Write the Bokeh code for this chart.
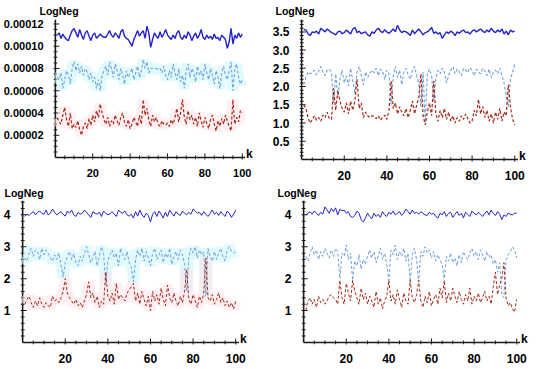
import math
from bokeh.plotting import figure
from bokeh.layouts import column, row
from bokeh.models import FixedTicker, PrintfTickFormatter, Title
from bokeh.core.properties import value
from bokeh.embed import file_html
from bokeh.resources import INLINE

k = list(range(1, 101))

# ---------------- Panel 1 (top-left) ----------------
p1_blue = [1.10e-4,1.12e-4,1.07e-4,1.11e-4,1.08e-4,1.06e-4,1.05e-4,1.10e-4,1.14e-4,1.16e-4,
           1.12e-4,1.08e-4,1.15e-4,1.10e-4,1.06e-4,1.12e-4,1.14e-4,1.09e-4,1.05e-4,1.10e-4,
           1.12e-4,1.07e-4,1.09e-4,1.11e-4,1.09e-4,1.08e-4,1.08e-4,1.11e-4,1.14e-4,1.10e-4,
           1.08e-4,1.12e-4,1.10e-4,1.07e-4,1.13e-4,1.15e-4,1.09e-4,1.07e-4,1.06e-4,1.03e-4,
           1.00e-4,1.06e-4,1.10e-4,1.14e-4,1.09e-4,1.12e-4,1.14e-4,1.07e-4,1.18e-4,1.12e-4,
           0.99e-4,1.06e-4,1.12e-4,1.09e-4,1.07e-4,1.13e-4,1.08e-4,1.11e-4,1.15e-4,1.10e-4,
           1.08e-4,1.06e-4,1.10e-4,1.07e-4,1.12e-4,1.14e-4,1.08e-4,1.06e-4,1.10e-4,1.07e-4,
           1.13e-4,1.10e-4,1.05e-4,1.09e-4,1.12e-4,1.07e-4,1.10e-4,1.15e-4,1.08e-4,1.06e-4,
           1.10e-4,1.07e-4,1.09e-4,1.06e-4,1.11e-4,1.07e-4,1.08e-4,1.05e-4,1.10e-4,1.08e-4,
           1.06e-4,0.98e-4,1.04e-4,1.16e-4,1.02e-4,1.10e-4,1.07e-4,1.12e-4,1.08e-4,1.11e-4]
p1_cyan = [0.72e-4,0.70e-4,0.76e-4,0.62e-4,0.70e-4,0.78e-4,0.74e-4,0.66e-4,0.80e-4,0.86e-4,
           0.78e-4,0.84e-4,0.76e-4,0.82e-4,0.74e-4,0.80e-4,0.77e-4,0.70e-4,0.76e-4,0.68e-4,
           0.72e-4,0.62e-4,0.70e-4,0.60e-4,0.74e-4,0.78e-4,0.82e-4,0.74e-4,0.86e-4,0.80e-4,
           0.72e-4,0.84e-4,0.78e-4,0.70e-4,0.80e-4,0.74e-4,0.66e-4,0.78e-4,0.72e-4,0.76e-4,
           0.80e-4,0.70e-4,0.76e-4,0.82e-4,0.72e-4,0.78e-4,0.88e-4,0.80e-4,0.86e-4,0.76e-4,
           0.80e-4,0.80e-4,0.80e-4,0.80e-4,0.79e-4,0.80e-4,0.76e-4,0.82e-4,0.74e-4,0.70e-4,
           0.78e-4,0.72e-4,0.84e-4,0.76e-4,0.70e-4,0.80e-4,0.68e-4,0.74e-4,0.62e-4,0.78e-4,
           0.84e-4,0.72e-4,0.80e-4,0.76e-4,0.68e-4,0.82e-4,0.74e-4,0.78e-4,0.70e-4,0.84e-4,
           0.76e-4,0.70e-4,0.80e-4,0.74e-4,0.66e-4,0.78e-4,0.72e-4,0.62e-4,0.76e-4,0.82e-4,
           0.74e-4,0.70e-4,0.78e-4,0.86e-4,0.60e-4,0.80e-4,0.84e-4,0.72e-4,0.66e-4,0.70e-4]
p1_red = [0.36e-4,0.32e-4,0.30e-4,0.38e-4,0.45e-4,0.34e-4,0.28e-4,0.40e-4,0.26e-4,0.30e-4,
          0.27e-4,0.33e-4,0.25e-4,0.20e-4,0.28e-4,0.31e-4,0.26e-4,0.35e-4,0.29e-4,0.38e-4,
          0.32e-4,0.42e-4,0.36e-4,0.48e-4,0.40e-4,0.34e-4,0.30e-4,0.36e-4,0.28e-4,0.33e-4,
          0.30e-4,0.38e-4,0.33e-4,0.29e-4,0.36e-4,0.40e-4,0.32e-4,0.28e-4,0.34e-4,0.26e-4,
          0.30e-4,0.36e-4,0.32e-4,0.28e-4,0.38e-4,0.30e-4,0.52e-4,0.38e-4,0.44e-4,0.34e-4,
          0.28e-4,0.38e-4,0.32e-4,0.36e-4,0.30e-4,0.28e-4,0.33e-4,0.30e-4,0.29e-4,0.31e-4,
          0.28e-4,0.34e-4,0.30e-4,0.36e-4,0.44e-4,0.32e-4,0.40e-4,0.52e-4,0.36e-4,0.30e-4,
          0.42e-4,0.34e-4,0.38e-4,0.30e-4,0.36e-4,0.28e-4,0.40e-4,0.33e-4,0.27e-4,0.36e-4,
          0.31e-4,0.26e-4,0.34e-4,0.38e-4,0.30e-4,0.24e-4,0.33e-4,0.28e-4,0.35e-4,0.30e-4,
          0.38e-4,0.33e-4,0.28e-4,0.24e-4,0.52e-4,0.30e-4,0.36e-4,0.32e-4,0.42e-4,0.40e-4]

# ---------------- Panel 2 (top-right) ----------------
p2_blue = [3.57,3.55,3.45,3.40,3.50,3.48,3.52,3.44,3.60,3.55,
           3.50,3.58,3.53,3.48,3.46,3.42,3.50,3.52,3.45,3.48,
           3.55,3.50,3.44,3.58,3.62,3.48,3.52,3.45,3.48,3.50,
           3.42,3.38,3.50,3.46,3.55,3.60,3.52,3.48,3.56,3.50,
           3.46,3.52,3.58,3.50,3.68,3.55,3.48,3.52,3.50,3.46,
           3.40,3.55,3.45,3.52,3.58,3.50,3.42,3.48,3.50,3.55,
           3.62,3.46,3.50,3.44,3.48,3.32,3.42,3.50,3.46,3.52,
           3.48,3.40,3.50,3.46,3.52,3.55,3.48,3.50,3.44,3.52,
           3.56,3.50,3.54,3.58,3.52,3.48,3.55,3.50,3.60,3.52,
           3.48,3.55,3.50,3.58,3.44,3.52,3.42,3.55,3.50,3.52]
p2_cyan = [2.05,2.25,2.40,2.35,2.38,2.45,2.32,2.42,2.55,2.40,
           2.30,2.45,2.48,2.40,1.55,2.35,1.70,2.20,2.45,2.10,
           2.30,2.02,2.50,2.15,1.80,2.40,2.55,2.30,2.05,2.40,
           2.25,2.35,2.45,2.38,2.50,2.30,2.48,2.42,2.20,2.45,
           2.35,1.50,2.30,2.55,2.25,2.45,2.05,2.40,2.50,2.32,
           2.20,2.45,2.55,2.30,2.10,1.45,2.40,1.00,2.35,2.48,
           2.30,1.60,2.25,2.45,2.35,2.50,2.40,2.10,2.30,2.45,
           2.55,2.35,2.48,2.40,2.30,2.50,2.45,2.38,2.52,2.45,
           2.30,2.48,2.40,2.35,2.50,2.42,2.30,2.48,2.25,2.40,
           2.45,2.35,2.50,2.30,2.10,1.75,1.45,2.20,2.40,2.60]
p2_red = [1.50,1.40,1.15,1.00,1.10,1.20,1.08,1.15,1.05,1.22,
          1.15,1.30,1.12,1.10,1.95,1.35,1.90,1.60,1.40,1.30,
          1.55,1.25,1.60,1.35,1.62,2.20,1.40,1.55,1.15,1.30,
          1.20,1.15,1.20,1.18,1.12,1.20,1.08,1.15,1.22,1.10,
          1.35,2.15,1.40,1.55,1.25,1.45,1.30,1.20,1.40,1.15,
          1.35,1.60,1.25,1.50,1.70,2.35,1.20,0.95,1.30,1.55,
          1.20,2.15,1.25,1.05,1.35,1.15,1.40,1.10,1.30,1.05,
          1.20,1.00,1.15,1.05,1.20,1.10,1.25,1.12,1.00,1.05,
          1.35,1.20,1.65,1.25,1.45,1.15,1.35,1.05,1.25,1.00,
          1.30,1.10,1.40,1.05,1.30,1.20,2.05,1.45,1.10,0.95]

# ---------------- Panel 3 (bottom-left) ----------------
p3_blue = [3.95,4.02,3.98,4.05,4.10,4.00,4.08,4.12,4.05,4.02,
           4.15,4.00,4.05,4.18,4.08,4.00,4.05,4.10,4.02,3.96,
           4.12,4.05,4.15,4.00,3.95,4.08,4.02,4.05,4.15,4.08,
           4.00,3.92,4.10,4.05,4.02,4.08,3.95,4.12,4.05,4.00,
           4.03,4.10,4.02,3.95,4.15,4.08,4.05,4.12,4.00,3.96,
           4.02,3.90,4.10,3.96,4.15,4.00,3.92,4.05,3.98,3.78,
           4.02,4.10,3.95,4.12,4.02,3.90,4.08,3.95,4.15,4.05,
           3.96,4.10,4.02,3.98,4.12,4.05,4.00,4.08,4.02,4.18,
           4.12,4.05,4.08,3.98,4.10,4.02,3.95,4.05,4.15,4.02,
           4.08,3.98,4.10,4.02,3.95,4.12,4.05,3.92,4.02,4.15]
p3_cyan = [2.65,2.55,2.80,2.95,2.70,2.90,2.85,2.60,2.95,2.75,
           2.90,2.80,2.65,2.55,2.75,2.60,2.80,2.45,2.05,2.50,
           2.70,2.85,2.60,2.78,2.50,2.40,2.70,2.55,2.80,3.00,
           2.75,2.50,2.65,2.85,2.40,2.70,3.00,2.80,1.85,2.55,
           2.75,2.90,2.65,2.80,2.40,2.95,2.75,2.60,2.85,2.50,
           2.35,1.90,2.60,2.90,2.70,2.95,2.55,2.85,2.65,2.40,
           2.80,2.95,2.60,2.75,2.90,2.50,2.80,2.65,2.95,2.45,
           2.70,2.85,2.60,2.90,2.75,2.45,1.60,2.70,2.95,2.80,
           3.00,2.65,2.90,2.75,2.85,1.45,2.95,2.70,2.55,2.85,
           2.60,2.80,2.95,2.70,2.55,2.90,3.00,2.85,2.80,2.85]
p3_red = [1.20,1.35,1.45,1.25,1.10,1.30,1.15,1.40,1.20,1.10,
          1.25,1.15,1.10,1.45,1.30,1.35,1.25,1.40,1.60,2.00,
          1.55,1.40,1.30,1.20,1.35,1.15,1.25,1.10,1.30,1.50,
          1.90,1.40,1.55,1.25,1.45,1.10,1.30,1.20,2.20,1.45,
          1.30,1.55,1.20,1.85,1.35,1.50,1.40,1.30,1.55,1.65,
          1.75,1.85,1.30,1.55,1.20,1.60,1.35,1.15,1.45,1.00,
          1.60,1.30,1.50,1.20,1.70,1.35,1.15,1.80,1.40,1.25,
          1.55,1.30,1.15,1.45,1.25,1.60,2.30,1.35,1.20,1.50,
          1.30,1.10,1.45,1.25,1.55,2.65,1.40,1.30,1.50,1.20,
          1.35,1.55,1.25,1.40,1.15,1.30,1.10,1.25,1.05,1.30]

# ---------------- Panel 4 (bottom-right) ----------------
p4_blue = [4.00,4.05,4.10,4.02,4.12,4.05,3.98,4.08,4.02,4.25,
           4.15,4.05,4.20,4.10,4.22,4.00,4.18,4.12,4.15,4.05,
           4.10,3.95,3.92,3.98,4.12,4.05,3.85,3.78,3.90,4.05,
           3.95,3.88,4.05,3.95,4.02,3.92,4.10,4.00,3.95,4.08,
           4.02,4.12,4.00,4.05,4.10,3.98,4.05,4.18,4.10,4.02,
           4.15,4.05,4.08,4.02,4.10,4.05,4.00,3.98,4.08,4.02,
           4.05,3.95,3.90,4.05,4.00,4.10,3.95,4.05,4.08,3.92,
           4.02,4.10,3.98,4.05,3.90,4.08,4.02,3.95,4.12,4.05,
           4.00,4.08,4.02,3.95,4.05,4.12,4.00,4.15,4.05,3.98,
           4.10,4.02,3.85,4.00,3.95,4.05,4.02,4.00,4.05,4.05]
p4_cyan = [2.70,2.55,2.80,3.00,2.75,2.90,2.60,2.85,2.70,2.95,
           2.80,2.65,2.90,2.70,2.95,2.85,2.00,2.80,2.70,3.05,
           2.60,2.80,1.95,2.55,2.40,2.75,2.30,2.60,2.45,2.70,
           2.90,2.65,2.85,2.50,2.70,2.95,2.60,2.80,2.45,1.95,
           2.90,2.75,3.05,2.60,2.85,2.70,2.95,2.55,2.80,1.90,
           2.75,2.95,2.60,1.90,2.85,2.70,3.00,2.80,2.90,2.65,
           2.85,2.55,2.75,2.60,2.45,2.00,2.70,2.55,2.80,2.50,
           2.65,2.40,2.75,2.50,2.85,2.70,2.60,2.80,2.95,2.70,
           2.85,2.60,2.90,2.75,2.55,2.85,2.65,2.75,2.45,2.60,
           2.20,2.50,1.50,1.40,2.60,2.75,2.85,3.00,2.90,2.65]
p4_red = [1.00,1.30,1.40,1.20,1.35,1.10,1.45,1.25,1.35,1.20,
          1.30,1.45,1.50,1.40,1.35,1.20,1.95,1.40,1.20,1.85,
          1.55,1.30,1.95,1.60,1.40,1.20,1.70,1.35,1.55,1.20,
          1.45,1.30,1.10,1.60,1.20,1.40,1.05,1.30,1.45,1.95,
          1.30,1.50,1.20,1.65,1.35,1.10,1.55,1.30,1.20,1.95,
          1.40,1.25,1.50,1.95,1.30,1.10,1.45,1.25,1.60,1.15,
          1.35,1.50,1.20,1.70,1.40,1.95,1.25,1.55,1.30,1.70,
          1.45,1.25,1.60,1.35,1.20,1.50,1.30,1.70,1.20,1.45,
          1.30,1.55,1.25,1.40,1.60,1.30,1.45,1.20,1.75,2.20,
          1.50,1.80,2.00,2.50,1.40,1.15,1.25,1.05,0.95,1.35]

x_ticks = [20, 40, 60, 80, 100]
x_minor = [5, 10, 15, 25, 30, 35, 45, 50, 55, 65, 70, 75, 85, 90, 95]
p1_yticks = [0.00002, 0.00004, 0.00006, 0.00008, 0.00010, 0.00012]
p1_minor = [0.000005, 0.00001, 0.000015, 0.000025, 0.00003, 0.000035,
            0.000045, 0.00005, 0.000055, 0.000065, 0.00007, 0.000075,
            0.000085, 0.00009, 0.000095, 0.000105, 0.00011, 0.000115]
p2_yticks = [0.5, 1.0, 1.5, 2.0, 2.5, 3.0, 3.5]
p2_minor = [0.1, 0.2, 0.3, 0.4, 0.6, 0.7, 0.8, 0.9, 1.1, 1.2, 1.3, 1.4,
            1.6, 1.7, 1.8, 1.9, 2.1, 2.2, 2.3, 2.4, 2.6, 2.7, 2.8, 2.9,
            3.1, 3.2, 3.3, 3.4, 3.6, 3.7, 3.8]
p34_yticks = [1, 2, 3, 4]
p34_minor = [0.2, 0.4, 0.6, 0.8, 1.2, 1.4, 1.6, 1.8, 2.2, 2.4, 2.6, 2.8,
             3.2, 3.4, 3.6, 3.8, 4.2, 4.4]
x_label = "k"
y_label = "LogNeg"

FONT = "Liberation Sans"
BLUE = "#2323c8"
CYAN = "#6f9fdb"
RED = "#a52a18"
AXIS_COL = "#1a1a1a"
AXIS_END = 101.5
X_START = -1.0
X_END = 106


def make_panel(blue, cyan, red, y_start, y_end, yticks, yminor, yfmt, lab_size,
               left, right, top, bottom, fw, fh, title_off, title_standoff,
               halos, widths):
    p = figure(frame_width=fw, frame_height=fh, x_range=(X_START, X_END),
               y_range=(y_start, y_end),
               output_backend="svg", toolbar_location=None,
               min_border_left=left, min_border_right=right,
               min_border_top=top, min_border_bottom=bottom)
    p.outline_line_color = None
    p.xgrid.visible = False
    p.ygrid.visible = False

    # axis lines and inward ticks as thin filled rectangles
    p.rect(x=[AXIS_END / 2], y=[0], width=[AXIS_END], height=1.6, height_units="screen",
           fill_color=AXIS_COL, line_color=None)
    p.rect(x=[0], y=[y_end / 2], width=1.6, width_units="screen", height=[y_end],
           fill_color=AXIS_COL, line_color=None)
    p.rect(x=x_ticks, y=[0] * len(x_ticks), width=1, height=8,
           width_units="screen", height_units="screen", fill_color=AXIS_COL, line_color=None)
    p.rect(x=x_minor, y=[0] * len(x_minor), width=1, height=4,
           width_units="screen", height_units="screen", fill_color=AXIS_COL, line_color=None)
    p.rect(x=[0] * len(yticks), y=yticks, width=8, height=1,
           width_units="screen", height_units="screen", fill_color=AXIS_COL, line_color=None)
    p.rect(x=[0] * len(yminor), y=yminor, width=4, height=1,
           width_units="screen", height_units="screen", fill_color=AXIS_COL, line_color=None)

    if halos:
        p.line(k, cyan, line_color="#c9f5fa", line_width=11, line_alpha=0.55)
        p.line(k, red, line_color="#fde2ea", line_width=11, line_alpha=0.55)

    p.line(k, blue, line_color=BLUE, line_width=widths[0])
    p.line(k, cyan, line_color=CYAN, line_width=widths[1], line_dash="3 2")
    p.line(k, red, line_color=RED, line_width=widths[2], line_dash="3 2")

    for ax in (p.xaxis, p.yaxis):
        ax.axis_line_color = None
        ax.major_tick_line_color = None
        ax.minor_tick_line_color = None
        ax.major_label_text_font = FONT
        ax.major_label_text_font_style = "bold"
        ax.major_label_text_font_size = lab_size
        ax.major_label_text_color = "black"
    p.xaxis.major_label_standoff = 3
    p.yaxis.major_label_standoff = 4

    p.xaxis.ticker = FixedTicker(ticks=x_ticks)
    p.yaxis.ticker = FixedTicker(ticks=yticks)
    p.yaxis.formatter = PrintfTickFormatter(format=yfmt)

    p.add_layout(Title(text=y_label, align="left", offset=title_off,
                       standoff=title_standoff, text_font=FONT,
                       text_font_style="bold", text_font_size="10.5px",
                       text_color="black"), "above")
    p.text(x=[AXIS_END], y=[0], text=[x_label], text_font=value(FONT),
           text_font_style="bold", text_font_size="12px", text_color="black",
           text_align="left", text_baseline="middle", x_offset=1, y_offset=-3)
    return p


p1 = make_panel(p1_blue, p1_cyan, p1_red, -0.0000018, 0.000124, p1_yticks, p1_minor,
                "%.5f", "11px", 53, 14, 19, 18, 200, 140, -14, 5, True, (1.4, 1.1, 1.2))
p2 = make_panel(p2_blue, p2_cyan, p2_red, -0.055, 3.84, p2_yticks, p2_minor,
                "%.1f", "12px", 32, 7, 19, 16, 228, 142, -24, 5, False, (1.4, 1.1, 1.2))
p3 = make_panel(p3_blue, p3_cyan, p3_red, -0.063, 4.45, p34_yticks, p34_minor,
                "%d", "12px", 19, 20, 17, 15, 228, 144, -16, 4, True, (1, 1, 1))
p4 = make_panel(p4_blue, p4_cyan, p4_red, -0.063, 4.45, p34_yticks, p34_minor,
                "%d", "12px", 33, 6, 18, 14, 228, 144, -24, 4, False, (1, 1, 1))

layout = column(row(p1, p2), row(p3, p4))
open("out.html", "w").write(file_html(layout, INLINE))
